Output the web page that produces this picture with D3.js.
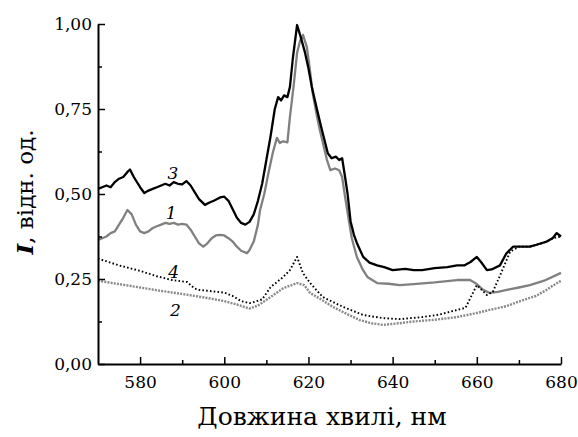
<!DOCTYPE html>
<html>
<head>
<meta charset="utf-8">
<script src="https://cdn.jsdelivr.net/npm/d3@7"></script>
<style>
  body { margin: 0; background: #fff; }
</style>
</head>
<body>
<div id="chart"></div>
<script>
// curve 3 - black solid
var wl3 = [570, 571, 572, 573, 574, 575, 576, 577, 577.6, 578.5, 580, 581, 582, 583, 584, 585, 586, 587, 588, 589, 590, 591, 592, 593, 594, 595.4, 596.5, 597.5, 599, 600, 601, 602, 603, 604, 605, 606, 607, 608, 609, 610, 611, 612, 612.8, 613.5, 614.2, 615, 615.6, 616.3, 617.3, 618.2, 619.2, 620, 620.8, 622, 623.2, 624.6, 625.5, 626.5, 627.3, 628, 628.7, 629.3, 630, 630.8, 631.5, 633, 634.5, 636.3, 638, 640, 643, 645, 647, 650, 653, 655.3, 657, 658.5, 660, 661, 662.4, 663.5, 665.5, 667, 668.6, 670, 672.6, 674, 676.6, 678, 679, 680];
var i3 = [0.515, 0.52, 0.525, 0.52, 0.535, 0.545, 0.55, 0.565, 0.572, 0.55, 0.52, 0.503, 0.51, 0.515, 0.52, 0.525, 0.53, 0.525, 0.535, 0.53, 0.528, 0.538, 0.525, 0.505, 0.485, 0.468, 0.475, 0.48, 0.49, 0.492, 0.48, 0.455, 0.43, 0.415, 0.41, 0.418, 0.44, 0.48, 0.53, 0.6, 0.67, 0.75, 0.785, 0.775, 0.79, 0.785, 0.815, 0.9, 0.997, 0.96, 0.915, 0.87, 0.815, 0.75, 0.688, 0.62, 0.605, 0.61, 0.6, 0.605, 0.55, 0.5, 0.42, 0.38, 0.356, 0.315, 0.298, 0.29, 0.285, 0.276, 0.28, 0.276, 0.276, 0.282, 0.285, 0.29, 0.29, 0.3, 0.315, 0.3, 0.276, 0.278, 0.29, 0.325, 0.345, 0.345, 0.345, 0.35, 0.36, 0.37, 0.385, 0.375];

// curve 1 - gray solid
var wl1 = [570, 571, 572, 573, 574, 575, 576, 577, 578, 579, 580, 581, 582, 583, 584, 585, 586, 587, 588, 589, 590, 591, 592, 593, 594, 595, 596, 597, 598, 599, 600, 601, 602, 603, 604, 605.4, 606, 607, 608, 608.5, 609.5, 610.4, 611.5, 612.5, 613.2, 614, 615, 615.6, 616.5, 617.3, 618, 618.7, 619.6, 620.3, 621, 622, 622.7, 624.4, 625.2, 626.3, 627.3, 628, 628.6, 629.2, 630.3, 631.5, 632.8, 634, 636.3, 639, 641.7, 645, 650, 655.3, 658.4, 660, 661.5, 663.1, 665, 667.1, 670, 672.6, 676, 680];
var i1 = [0.365, 0.37, 0.375, 0.385, 0.39, 0.41, 0.43, 0.453, 0.44, 0.41, 0.39, 0.385, 0.39, 0.4, 0.405, 0.41, 0.415, 0.412, 0.415, 0.41, 0.412, 0.41, 0.395, 0.375, 0.355, 0.345, 0.355, 0.37, 0.378, 0.38, 0.378, 0.37, 0.36, 0.345, 0.333, 0.326, 0.335, 0.36, 0.41, 0.453, 0.5, 0.556, 0.62, 0.665, 0.65, 0.655, 0.652, 0.727, 0.82, 0.915, 0.95, 0.968, 0.933, 0.87, 0.797, 0.73, 0.688, 0.6, 0.57, 0.575, 0.57, 0.55, 0.5, 0.453, 0.37, 0.315, 0.28, 0.256, 0.238, 0.236, 0.232, 0.235, 0.24, 0.247, 0.247, 0.235, 0.218, 0.209, 0.212, 0.218, 0.225, 0.232, 0.245, 0.268];

// curve 4 - black dotted
var wl4 = [570, 575, 580, 584, 587.6, 590, 591.2, 592, 593, 594, 597, 600, 602, 604, 606, 607, 609, 611, 614, 615.6, 617.3, 618.7, 620.4, 623.4, 628.2, 633, 637.7, 641.7, 647, 651, 655.3, 657.3, 660, 662.4, 663.8, 665.5, 667.9, 670, 672.6, 674, 676.6, 678, 680];
var i4 = [0.31, 0.29, 0.274, 0.258, 0.247, 0.243, 0.241, 0.232, 0.222, 0.218, 0.214, 0.21, 0.2, 0.185, 0.179, 0.182, 0.19, 0.226, 0.256, 0.276, 0.315, 0.267, 0.238, 0.197, 0.168, 0.144, 0.135, 0.132, 0.138, 0.145, 0.159, 0.165, 0.232, 0.203, 0.212, 0.26, 0.33, 0.345, 0.345, 0.35, 0.36, 0.37, 0.375];

// curve 2 - gray dotted
var wl2 = [570, 575, 580, 585, 590, 593, 597, 600, 603, 606, 608, 611, 614, 617.3, 619, 620.4, 623, 625.8, 629, 632.2, 635, 637.7, 641.7, 645, 650, 655.3, 660, 663, 667, 671, 674, 676.6, 678, 680];
var i2 = [0.245, 0.235, 0.225, 0.215, 0.206, 0.2, 0.192, 0.185, 0.175, 0.163, 0.172, 0.197, 0.223, 0.238, 0.232, 0.209, 0.19, 0.168, 0.148, 0.129, 0.12, 0.115, 0.12, 0.125, 0.13, 0.138, 0.15, 0.159, 0.17, 0.188, 0.2, 0.218, 0.23, 0.245];

var xMajor = [580, 600, 620, 640, 660, 680];
var xMinor = [590, 610, 630, 650, 670];
var yMajor = [0, 0.25, 0.5, 0.75, 1];
var yMinor = [0.125, 0.375, 0.625, 0.875];

// curve numbers and where they sit (baseline)
var curveNames = ['3', '1', '4', '2'];
var nameWl = [587.8, 587.4, 588.0, 588.4];
var nameI = [0.544, 0.426, 0.253, 0.141];

var W = 578, H = 437;
var SERIF = "'DejaVu Serif', serif";

var svg = d3.select("#chart")
  .append("svg")
    .attr("width", W)
    .attr("height", H);

var x = d3.scaleLinear().domain([570, 680]).range([98, 561]);
var y = d3.scaleLinear().domain([0, 1]).range([364, 24]);

function fmt(d) { return d3.format(".2f")(d).replace(".", ","); }

// curves
function drawCurve(wl, vals, color, width, dash) {
  var pts = wl.map(function(w, i) { return [w, vals[i]]; });
  var line = d3.line()
    .x(function(d) { return x(d[0]); })
    .y(function(d) { return y(d[1]); });
  svg.append("path")
    .datum(pts)
    .attr("d", line)
    .attr("fill", "none")
    .attr("stroke", color)
    .attr("stroke-width", width)
    .attr("stroke-linejoin", "round")
    .attr("stroke-dasharray", dash);
}

drawCurve(wl2, i2, "#8a8a8a", 2.4, "2,1.2");
drawCurve(wl1, i1, "#808080", 2.3, null);
drawCurve(wl4, i4, "#000", 1.9, "1.6,2.2");
drawCurve(wl3, i3, "#000", 2.3, null);

// axes, ticks pointing inward
svg.append("g")
  .attr("transform", "translate(0," + y(0) + ")")
  .call(d3.axisBottom(x).tickValues(xMajor).tickFormat(d3.format("d"))
    .tickSizeInner(-7).tickSizeOuter(0).tickPadding(12));
svg.append("g")
  .attr("transform", "translate(0," + y(0) + ")")
  .call(d3.axisBottom(x).tickValues(xMinor).tickFormat("")
    .tickSizeInner(-4).tickSizeOuter(0))
  .call(function(g) { g.select(".domain").remove(); });

svg.append("g")
  .attr("transform", "translate(" + x(570) + ",0)")
  .call(d3.axisLeft(y).tickValues(yMajor).tickFormat(fmt)
    .tickSizeInner(-7).tickSizeOuter(0).tickPadding(6));
svg.append("g")
  .attr("transform", "translate(" + x(570) + ",0)")
  .call(d3.axisLeft(y).tickValues(yMinor).tickFormat("")
    .tickSizeInner(-4).tickSizeOuter(0))
  .call(function(g) { g.select(".domain").remove(); });

svg.selectAll(".domain").attr("stroke", "#000").attr("stroke-width", 2);
svg.selectAll(".tick line").attr("stroke", "#000").attr("stroke-width", 1.5);
svg.selectAll(".tick text")
  .attr("font-family", SERIF)
  .attr("font-size", 17)
  .attr("fill", "#000");

// curve numbers
svg.append("g")
  .selectAll("text")
  .data(curveNames)
  .enter().append("text")
    .attr("x", function(d, i) { return x(nameWl[i]); })
    .attr("y", function(d, i) { return y(nameI[i]); })
    .attr("text-anchor", "middle")
    .attr("font-family", SERIF)
    .attr("font-style", "italic")
    .attr("font-size", 17)
    .text(function(d) { return d; });

// axis titles
svg.append("text")
  .attr("x", 322)
  .attr("y", 425)
  .attr("text-anchor", "middle")
  .attr("font-family", SERIF)
  .attr("font-size", 25)
  .text("Довжина хвилі, нм");

var yt = svg.append("text")
  .attr("transform", "translate(33,192) rotate(-90)")
  .attr("text-anchor", "middle")
  .attr("font-family", SERIF)
  .attr("font-size", 23);
yt.append("tspan").attr("font-style", "italic").attr("font-weight", "bold").text("I");
yt.append("tspan").text(", відн. од.");
</script>
</body>
</html>
